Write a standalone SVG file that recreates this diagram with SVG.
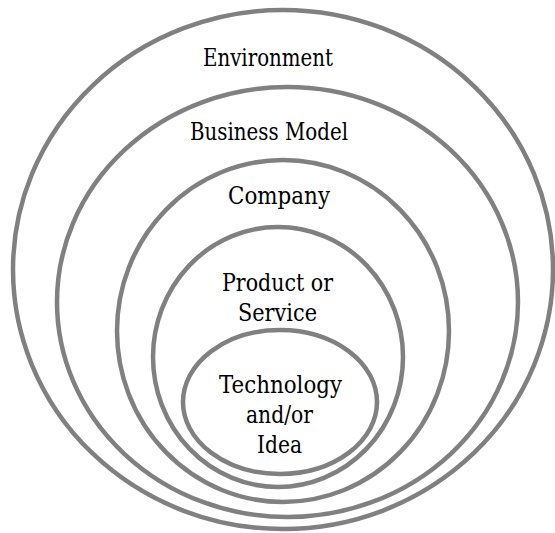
<svg xmlns="http://www.w3.org/2000/svg" width="555" height="533" viewBox="0 0 555 533">
<style>
.ring{fill:none;stroke:#808080;stroke-width:4.5}
.lbl{font-family:"DejaVu Serif","Liberation Serif",serif;font-size:24px;fill:#000;text-anchor:middle}
</style>
<rect width="555" height="533" fill="#fff"/>
<g id="environment">
<ellipse class="ring" cx="283" cy="269.5" rx="270" ry="259.5"/>
<text class="lbl" x="268" y="66" textLength="130" lengthAdjust="spacingAndGlyphs">Environment</text>
</g>
<g id="business-model">
<ellipse class="ring" cx="287.5" cy="302" rx="230.5" ry="215"/>
<text class="lbl" x="269" y="140" textLength="158" lengthAdjust="spacingAndGlyphs">Business Model</text>
</g>
<g id="company">
<ellipse class="ring" cx="283" cy="331" rx="166" ry="171"/>
<text class="lbl" x="279" y="204" textLength="102" lengthAdjust="spacingAndGlyphs">Company</text>
</g>
<g id="product">
<ellipse class="ring" cx="278" cy="357" rx="125" ry="130"/>
<text class="lbl" x="277.5" y="291" textLength="111" lengthAdjust="spacingAndGlyphs">Product or</text>
<text class="lbl" x="277.5" y="321" textLength="79" lengthAdjust="spacingAndGlyphs">Service</text>
</g>
<g id="technology">
<ellipse class="ring" cx="280" cy="402" rx="97" ry="72"/>
<text class="lbl" x="280.5" y="393" textLength="123" lengthAdjust="spacingAndGlyphs">Technology</text>
<text class="lbl" x="279.5" y="423" textLength="67" lengthAdjust="spacingAndGlyphs">and/or</text>
<text class="lbl" x="279.5" y="453" textLength="45" lengthAdjust="spacingAndGlyphs">Idea</text>
</g>
<g id="connectors"></g>
</svg>
